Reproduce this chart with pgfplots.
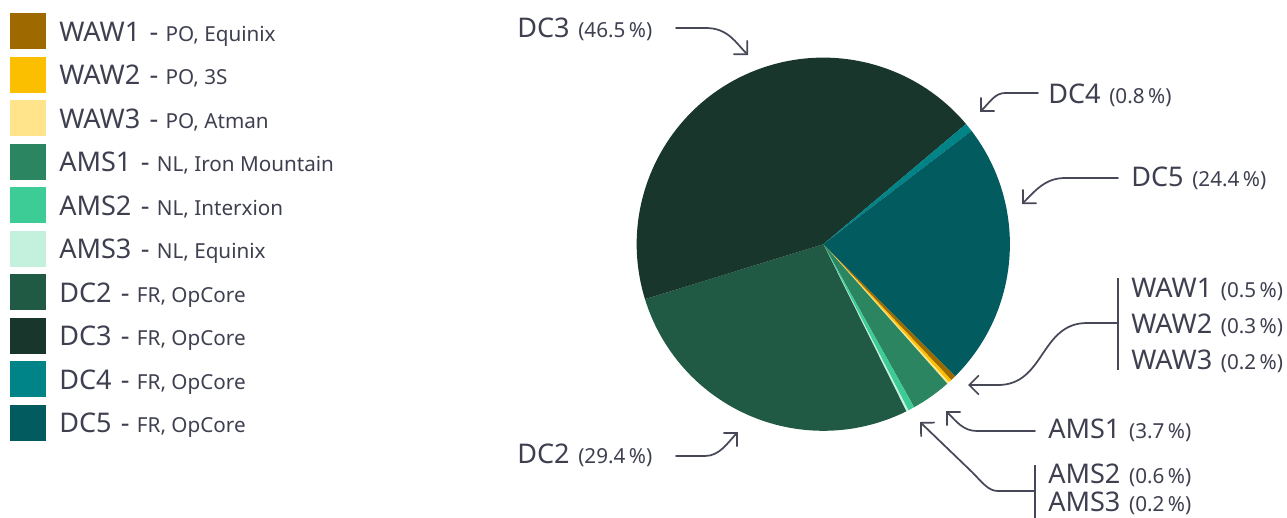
\documentclass[border=0pt]{standalone}
\usepackage{pgfplots}
\pgfplotsset{compat=1.18}
\usetikzlibrary{arrows.meta}
\usepackage{fontspec}
\setmainfont{Noto Sans}

\definecolor{cWAW1}{RGB}{158,106,0}
\definecolor{cWAW2}{RGB}{251,191,0}
\definecolor{cWAW3}{RGB}{255,228,140}
\definecolor{cAMS1}{RGB}{42,133,96}
\definecolor{cAMS2}{RGB}{62,204,150}
\definecolor{cAMS3}{RGB}{196,240,222}
\definecolor{cDC2}{RGB}{32,90,68}
\definecolor{cDC3}{RGB}{24,54,44}
\definecolor{cDC4}{RGB}{0,132,136}
\definecolor{cDC5}{RGB}{2,92,95}
\definecolor{txt}{RGB}{62,64,80}
\definecolor{ln}{RGB}{70,72,88}

\newcommand\bgt[1]{{\fontsize{20.3}{24}\selectfont #1}}
\newcommand\sml[1]{{\fontsize{15.5}{18}\selectfont #1}}
\newcommand\lab[2]{\bgt{#1}\hspace{6.5pt}\sml{(#2\,\%)}}

% slice angles: start at -45 deg, clockwise, shares of the total
\newcommand\tot{106.6}
\newcommand\R{139.95pt}
\def\curang{-45}
\newcommand\mkslice[2]{%
  \pgfmathsetmacro\tmpend{\curang-#2/\tot*360}%
  \expandafter\xdef\csname s#1\endcsname{\curang}%
  \expandafter\xdef\csname e#1\endcsname{\tmpend}%
  \xdef\curang{\tmpend}}
\newcommand\drawslice[1]{%
  \edef\tmp{\noexpand\fill[c#1] (axis cs:823.3,244.2) -- ++(\csname s#1\endcsname:\R)
    arc[start angle=\csname s#1\endcsname, end angle=\csname e#1\endcsname, radius=\R] -- cycle;}\tmp}
\newcommand\legrow[3]{% index, name, detail
  \fill[c#2] (axis cs:10,{13+43.56*#1}) rectangle (axis cs:46,{49+43.56*#1});
  \node[anchor=base west, text=txt, inner sep=0pt] at (axis cs:59,{41.3+43.5*#1})
    {\bgt{#2}\hspace{7pt}\bgt{-}\hspace{5.5pt}\sml{#3}};}

\mkslice{WAW1}{0.5}
\mkslice{WAW2}{0.3}
\mkslice{WAW3}{0.2}
\mkslice{AMS1}{3.7}
\mkslice{AMS2}{0.6}
\mkslice{AMS3}{0.2}
\mkslice{DC2}{29.4}
\mkslice{DC3}{46.5}
\mkslice{DC4}{0.8}
\mkslice{DC5}{24.4}

\begin{document}
\begin{tikzpicture}
\begin{axis}[
    anchor=origin, at={(0,0)},
    x=0.75pt, y=0.75pt, y dir=reverse,
    xmin=0, xmax=1287, ymin=0, ymax=517,
    hide axis, clip=false,
]
% pie
\drawslice{WAW1}
\drawslice{WAW2}
\drawslice{WAW3}
\drawslice{AMS1}
\drawslice{AMS2}
\drawslice{AMS3}
\drawslice{DC2}
\drawslice{DC3}
\drawslice{DC4}
\drawslice{DC5}

% legend
\legrow{0}{WAW1}{PO, Equinix}
\legrow{1}{WAW2}{PO, 3S}
\legrow{2}{WAW3}{PO, Atman}
\legrow{3}{AMS1}{NL, Iron Mountain}
\legrow{4}{AMS2}{NL, Interxion}
\legrow{5}{AMS3}{NL, Equinix}
\legrow{6}{DC2}{FR, OpCore}
\legrow{7}{DC3}{FR, OpCore}
\legrow{8}{DC4}{FR, OpCore}
\legrow{9}{DC5}{FR, OpCore}

% callouts
\begin{scope}[ln, line width=1.3pt, line cap=round,
  -{Straight Barb[length=7pt,width=14pt,line cap=round]}]
\draw (axis cs:676,28) -- (axis cs:706,28) .. controls (axis cs:728,28) and (axis cs:736,43) .. (axis cs:748,55);
\draw (axis cs:1038,93) -- (axis cs:1005,93) .. controls (axis cs:995,93) and (axis cs:990,102) .. (axis cs:980,112);
\draw (axis cs:1118,178) -- (axis cs:1065,178) .. controls (axis cs:1045,178) and (axis cs:1035,191) .. (axis cs:1022,204);
\draw (axis cs:1118,323) -- (axis cs:1087,323) .. controls (axis cs:1040,323) and (axis cs:1045,385) .. (axis cs:998,385) -- (axis cs:968,385);
\draw (axis cs:1035,431) -- (axis cs:977,431) .. controls (axis cs:963,431) and (axis cs:956,421) .. (axis cs:946,411);
\draw (axis cs:1035,491) -- (axis cs:998,491) .. controls (axis cs:988,491) and (axis cs:982,482) .. (axis cs:972,472) -- (axis cs:920,422);
\draw (axis cs:676,456) -- (axis cs:705,456) .. controls (axis cs:720,456) and (axis cs:728,442) .. (axis cs:738,432);
\end{scope}
\draw[ln, line width=1.3pt] (axis cs:1118,278) -- (axis cs:1118,370);
\draw[ln, line width=1.3pt] (axis cs:1035,465) -- (axis cs:1035,520);

\begin{scope}[every node/.style={anchor=base west, text=txt, inner sep=0pt}]
\node at (axis cs:517,37) {\lab{DC3}{46.5}};
\node at (axis cs:1048,103.3) {\lab{DC4}{0.8}};
\node at (axis cs:1131,186.7) {\lab{DC5}{24.4}};
\node at (axis cs:1131,297.7) {\lab{WAW1}{0.5}};
\node at (axis cs:1131,333.3) {\lab{WAW2}{0.3}};
\node at (axis cs:1131,369.3) {\lab{WAW3}{0.2}};
\node at (axis cs:1048,438.3) {\lab{AMS1}{3.7}};
\node at (axis cs:1048,483.7) {\lab{AMS2}{0.6}};
\node at (axis cs:1048,511.5) {\lab{AMS3}{0.2}};
\node at (axis cs:517,463.3) {\lab{DC2}{29.4}};
\end{scope}
\end{axis}
\pgfresetboundingbox
\path (0,0) rectangle (965.25pt,-387.75pt);
\end{tikzpicture}
\end{document}
